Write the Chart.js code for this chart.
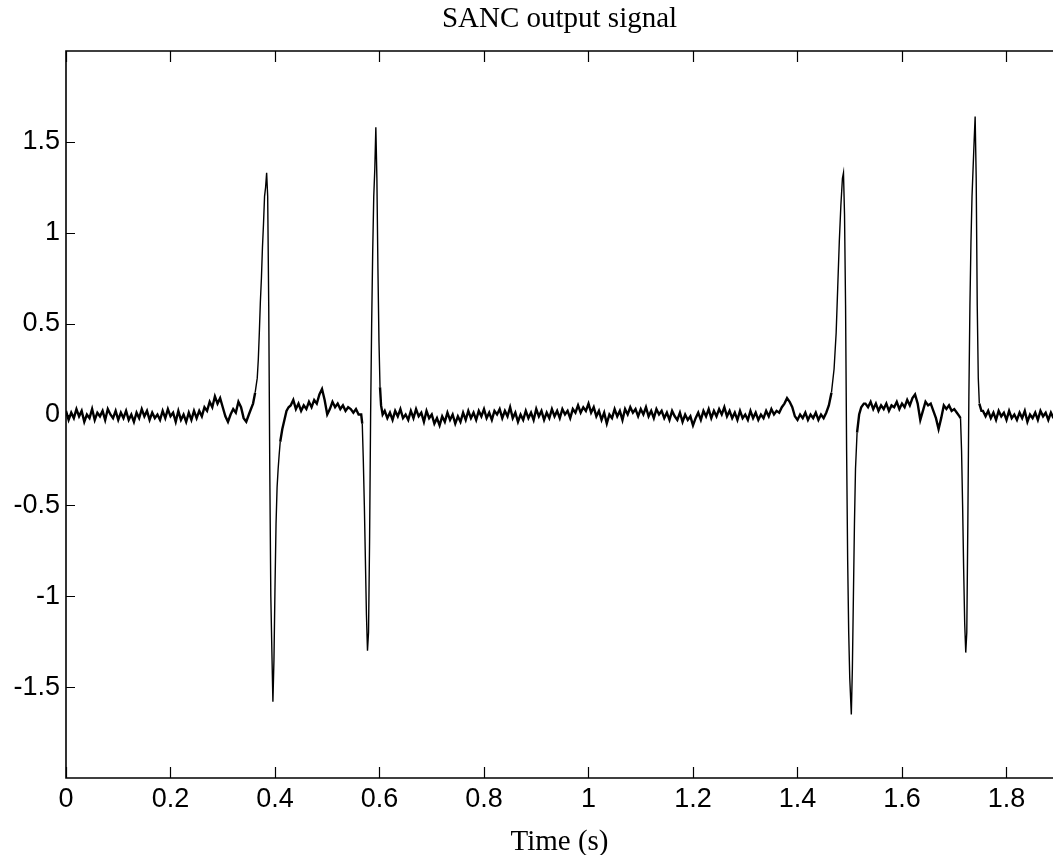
<!DOCTYPE html>
<html>
<head>
<meta charset="utf-8">
<title>SANC output signal</title>
<script src="https://cdn.jsdelivr.net/npm/chart.js@4/dist/chart.umd.min.js"></script>
<style>
  html, body { margin: 0; padding: 0; background: #fff; }
  #wrap { width: 1053px; height: 855px; }
</style>
</head>
<body>
<div id="wrap"><canvas id="sancChart" width="1053" height="855"></canvas></div>
<script>
// axis ticks
const xTicks = [0, 0.2, 0.4, 0.6, 0.8, 1, 1.2, 1.4, 1.6, 1.8];
const xTickLabels = ['0', '0.2', '0.4', '0.6', '0.8', '1', '1.2', '1.4', '1.6', '1.8'];
const yTicks = [-1.5, -1, -0.5, 0, 0.5, 1, 1.5];
const yTickLabels = ['-1.5', '-1', '-0.5', '0', '0.5', '1', '1.5'];

// quiet stretches, sampled every 5 ms
const sampleStep = 0.005;
const rest1Start = 0;
const rest1 = [0.02, -0.03, 0.01, -0.02, 0.03, -0.01, 0.02, -0.04, 0.00, -0.02,
  0.03, -0.03, 0.01, -0.01, 0.02, -0.03, 0.03, 0.00, -0.02, 0.02,
  -0.03, 0.01, -0.02, 0.02, -0.03, 0.00, -0.04, 0.01, -0.02, 0.03,
  -0.01, 0.02, -0.03, 0.01, -0.02, 0.00, -0.03, 0.02, -0.02, 0.03,
  -0.01, 0.01, -0.04, 0.02, -0.03, 0.00, -0.04, 0.01, -0.03, 0.02,
  -0.02, 0.02, -0.01, 0.04, 0.02, 0.07, 0.04, 0.10, 0.06, 0.09,
  0.04, -0.01, -0.04, 0.00, 0.03, 0.01, 0.07, 0.04, -0.02, -0.04, 0.00];
const rest2Start = 0.430;
const rest2 = [0.05, 0.08, 0.03, 0.06, 0.02, 0.05, 0.03, 0.07, 0.04, 0.08,
  0.06, 0.11, 0.14, 0.08, 0.00, 0.03, 0.07, 0.04, 0.06, 0.03,
  0.05, 0.02, 0.04, 0.03, 0.01, 0.03, 0.00];
const rest3Start = 0.610;
const rest3 = [0.02, -0.02, 0.01, -0.03, 0.02, -0.01, 0.03, -0.02, 0.00, -0.03,
  0.02, -0.02, 0.03, -0.01, 0.01, -0.04, 0.02, -0.02, 0.00, -0.05,
  -0.02, -0.06, -0.01, -0.04, 0.01, -0.03, 0.00, -0.05, -0.01, -0.04,
  0.01, -0.03, 0.02, -0.02, 0.01, -0.03, 0.02, -0.01, 0.03, -0.02,
  0.01, -0.03, 0.02, 0.00, 0.03, -0.02, 0.02, -0.01, 0.04, -0.02,
  0.01, -0.04, 0.00, -0.03, 0.02, -0.02, 0.01, -0.03, 0.03, -0.01,
  0.02, -0.03, 0.01, -0.02, 0.03, -0.01, 0.02, -0.02, 0.03, 0.00,
  0.02, -0.02, 0.03, 0.01, 0.05, 0.01, 0.04, 0.02, 0.06, 0.01,
  0.04, -0.01, 0.02, -0.03, 0.01, -0.05, 0.00, -0.02, 0.03, -0.01,
  0.02, -0.03, 0.03, 0.00, 0.04, 0.01, 0.03, -0.01, 0.03, 0.00,
  0.04, -0.01, 0.02, -0.02, 0.03, 0.00, 0.02, -0.02, 0.01, -0.03,
  0.02, -0.01, -0.03, 0.01, -0.04, 0.00, -0.03, -0.01, -0.06, -0.02,
  0.01, -0.03, 0.02, -0.01, 0.03, -0.02, 0.02, -0.01, 0.03, 0.00,
  0.04, -0.01, 0.02, -0.02, 0.01, -0.03, 0.02, -0.02, 0.00, -0.03,
  0.02, -0.02, 0.01, -0.03, 0.00, -0.02, 0.02, -0.01, 0.03, 0.00,
  0.02, 0.01, 0.04, 0.06, 0.09, 0.07, 0.04, -0.01, -0.03, 0.00,
  -0.02, 0.01, -0.03, 0.00, -0.02, 0.01, -0.03, 0.00, -0.02, 0.01];
const rest4Start = 1.530;
const rest4 = [0.06, 0.04, 0.07, 0.03, 0.06, 0.02, 0.05, 0.03, 0.06, 0.02,
  0.05, 0.04, 0.07, 0.03, 0.06, 0.04, 0.08, 0.05, 0.09, 0.11,
  0.06, -0.03, 0.02, 0.07, 0.05, 0.06, 0.02, -0.02, -0.08, -0.02,
  0.05, 0.03, 0.05, 0.02, 0.03, 0.01, -0.01];
const rest5Start = 1.755;
const rest5 = [0.02, -0.01, 0.02, -0.02, 0.01, -0.03, 0.02, -0.01, 0.01, -0.03,
  0.02, -0.02, 0.00, -0.03, 0.01, -0.02, 0.02, -0.04, 0.00, -0.02,
  0.01, -0.03, 0.02, -0.01, 0.01, -0.03, 0.01, -0.02];

// the four spikes, read point by point
const spikeATimes = [0.354, 0.358, 0.362, 0.366, 0.368, 0.370, 0.372, 0.374, 0.376, 0.378,
  0.380, 0.382, 0.384, 0.386, 0.388, 0.390, 0.392, 0.394, 0.396, 0.398,
  0.400, 0.402, 0.404, 0.406, 0.408, 0.410, 0.414, 0.418, 0.422, 0.426];
const spikeAValues = [0.03, 0.06, 0.12, 0.20, 0.30, 0.45, 0.62, 0.75, 0.92, 1.05,
  1.20, 1.25, 1.33, 1.20, 0.60, -0.30, -1.00, -1.30, -1.58, -1.35,
  -0.95, -0.60, -0.40, -0.30, -0.22, -0.15, -0.08, -0.03, 0.02, 0.04];
const spikeBTimes = [0.565, 0.567, 0.569, 0.571, 0.573, 0.575, 0.577, 0.579, 0.581, 0.583,
  0.585, 0.587, 0.589, 0.591, 0.593, 0.595, 0.597, 0.599, 0.601, 0.603, 0.606];
const spikeBValues = [0.00, -0.05, -0.25, -0.50, -0.80, -1.10, -1.30, -1.20, -0.70, 0.00,
  0.50, 0.90, 1.20, 1.35, 1.58, 1.30, 0.80, 0.40, 0.15, 0.05, 0.00];
const spikeCTimes = [1.460, 1.465, 1.470, 1.474, 1.477, 1.480, 1.483, 1.486, 1.488, 1.490,
  1.492, 1.494, 1.496, 1.498, 1.500, 1.503, 1.505, 1.507, 1.509, 1.511,
  1.514, 1.518, 1.522, 1.527];
const spikeCValues = [0.05, 0.12, 0.25, 0.45, 0.70, 0.95, 1.15, 1.30, 1.33, 1.10,
  0.60, -0.20, -0.80, -1.20, -1.45, -1.65, -1.40, -1.00, -0.60, -0.30,
  -0.10, 0.00, 0.04, 0.06];
const spikeDTimes = [1.712, 1.714, 1.716, 1.718, 1.720, 1.722, 1.724, 1.726, 1.728, 1.730,
  1.732, 1.734, 1.736, 1.738, 1.740, 1.742, 1.744, 1.746, 1.748, 1.752];
const spikeDValues = [-0.02, -0.20, -0.50, -0.85, -1.15, -1.31, -1.20, -0.60, 0.10, 0.60,
  0.95, 1.20, 1.35, 1.50, 1.64, 1.30, 0.60, 0.20, 0.06, 0.02];

function sampled(start, values) {
    return values.map((v, i) => ({ x: +(start + i * sampleStep).toFixed(3), y: v }));
}
function paired(times, values) {
    return times.map((t, i) => ({ x: t, y: values[i] }));
}

const signal = [].concat(
    sampled(rest1Start, rest1), paired(spikeATimes, spikeAValues),
    sampled(rest2Start, rest2), paired(spikeBTimes, spikeBValues),
    sampled(rest3Start, rest3), paired(spikeCTimes, spikeCValues),
    sampled(rest4Start, rest4), paired(spikeDTimes, spikeDValues),
    sampled(rest5Start, rest5)
);

const serif = '"Liberation Serif", "Times New Roman", serif';

// MATLAB style box: top/left/bottom lines, ticks pointing inward, title over the axes
const matlabFrame = {
    id: 'matlabFrame',
    afterDatasetsDraw(chart) {
        const { ctx, chartArea: a, scales: { x, y } } = chart;
        ctx.save();
        ctx.strokeStyle = '#000';
        ctx.lineWidth = 1.6;
        ctx.beginPath();
        ctx.moveTo(a.right, a.top);
        ctx.lineTo(a.left, a.top);
        ctx.lineTo(a.left, a.bottom);
        ctx.lineTo(a.right, a.bottom);
        ctx.stroke();

        ctx.lineWidth = 1.2;
        ctx.beginPath();
        x.ticks.forEach(t => {
            const px = Math.round(x.getPixelForValue(t.value)) + 0.5;
            ctx.moveTo(px, a.bottom);
            ctx.lineTo(px, a.bottom - 11);
            ctx.moveTo(px, a.top);
            ctx.lineTo(px, a.top + 11);
        });
        y.ticks.forEach(t => {
            const py = Math.round(y.getPixelForValue(t.value)) + 0.5;
            ctx.moveTo(a.left, py);
            ctx.lineTo(a.left + 9, py);
        });
        ctx.stroke();

        ctx.fillStyle = '#000';
        ctx.font = '29px ' + serif;
        ctx.textAlign = 'center';
        ctx.textBaseline = 'middle';
        ctx.fillText('SANC output signal', (a.left + a.right) / 2, 19);
        ctx.restore();
    }
};

const tickFont = { family: '"Liberation Sans", Arial, sans-serif', size: 27 };

// noisy baseline drawn heavier than the steep spike strokes
const quiet = c => Math.abs(c.p0.parsed.y) < 0.16 && Math.abs(c.p1.parsed.y) < 0.16;

new Chart(document.getElementById('sancChart'), {
    type: 'line',
    data: {
        datasets: [{
            data: signal,
            borderColor: '#000',
            borderWidth: 1.4,
            pointRadius: 0,
            tension: 0,
            fill: false,
            segment: {
                borderWidth: c => quiet(c) ? 2.4 : 1.4
            }
        }]
    },
    options: {
        responsive: false,
        animation: false,
        layout: { padding: { top: 51, right: 0, bottom: 0, left: 0 } },
        plugins: {
            legend: { display: false },
            tooltip: { enabled: false }
        },
        scales: {
            x: {
                type: 'linear',
                min: 0,
                max: 1.889,
                afterBuildTicks: scale => { scale.ticks = xTicks.map(v => ({ value: v })); },
                afterFit: scale => { scale.height = 77; },
                grid: { display: false, drawTicks: false },
                border: { display: false },
                ticks: {
                    padding: 5,
                    color: '#000',
                    font: tickFont,
                    maxRotation: 0,
                    autoSkip: false,
                    callback: (value, index) => xTickLabels[index]
                },
                title: {
                    display: true,
                    text: 'Time (s)',
                    color: '#000',
                    font: { family: serif, size: 29, lineHeight: 0.9 },
                    padding: { top: 0, bottom: 0 }
                }
            },
            y: {
                min: -2,
                max: 2,
                afterBuildTicks: scale => { scale.ticks = yTicks.map(v => ({ value: v })); },
                afterFit: scale => { scale.width = 66; },
                grid: { display: false, drawTicks: false },
                border: { display: false },
                ticks: {
                    padding: 6,
                    color: '#000',
                    font: tickFont,
                    autoSkip: false,
                    callback: (value, index) => yTickLabels[index]
                }
            }
        }
    },
    plugins: [matlabFrame]
});
</script>
</body>
</html>
